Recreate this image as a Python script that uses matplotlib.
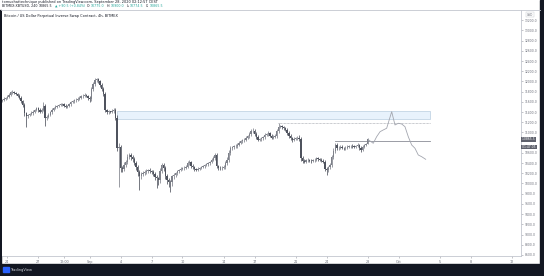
import matplotlib
matplotlib.use('Agg')
import matplotlib.pyplot as plt
from matplotlib.patches import Rectangle

W, H = 544, 276

# ---------------- data (4h candles, BitMEX XBTUSD) ----------------
first_open = 11620
start_day = -0.5          # first candle: Aug 23 12:00 (days relative to Aug 24 00:00)
bar_days = 1 / 6          # 4h

closes = [
    11640, 11660, 11680, 11700, 11740, 11790, 11800, 11775, 11750, 11720, 11680, 11620,
    11540, 11380, 11320, 11340, 11370, 11385, 11405, 11440, 11470, 11440, 11410, 11450,
    11520, 11280, 11310, 11345, 11400, 11440, 11480, 11505, 11525, 11540, 11545, 11550,
    11520, 11505, 11525, 11550, 11590, 11610, 11630, 11645, 11665, 11685, 11710, 11720,
    11735, 11720, 11680, 11650, 11850, 11950, 12020, 12040, 12000, 11930, 11850, 11760,
    11440, 11405, 11410, 11405, 11430, 11440, 11280, 10690, 10720, 10300, 10290, 10370,
    10420, 10520, 10560, 10510, 10480, 10400, 10320, 10230, 10150, 10190, 10210, 10230,
    10250, 10265, 10250, 10232, 10190, 10135, 10100, 10069, 10250, 10363, 10300, 10150,
    10069, 10030, 10020, 10140, 10170, 10200, 10240, 10270, 10290, 10300, 10310, 10330,
    10400, 10420, 10350, 10320, 10275, 10270, 10290, 10300, 10325, 10340, 10360, 10375,
    10395, 10420, 10460, 10500, 10555, 10340, 10310, 10298, 10305, 10320, 10400, 10470,
    10600, 10690, 10710, 10725, 10740, 10760, 10800, 10825, 10845, 10860, 10900, 10930,
    10970, 11020, 11030, 10970, 10920, 10860, 10865, 10885, 10910, 10950, 10965, 10984,
    10940, 10900, 10915, 10931, 11020, 11113, 11120, 11110, 11080, 11045, 10990, 10940,
    10890, 10853, 10870, 10885, 10900, 10880, 10500, 10440, 10430, 10455, 10460, 10445,
    10440, 10455, 10470, 10490, 10480, 10465, 10450, 10430, 10290, 10260, 10320, 10360,
    10520, 10640, 10755, 10690, 10705, 10721, 10700, 10690, 10705, 10721, 10730, 10735,
    10725, 10721, 10740, 10755, 10700, 10657, 10720, 10755, 10775, 10865.5,
]

up_wick = [
    25, 30, 20, 35, 40, 25, 30, 20, 25, 20, 30, 25,
    20, 30, 25, 30, 20, 35, 30, 25, 30, 25, 40, 30,
    70, 40, 25, 30, 20, 35, 25, 30, 20, 25, 30, 20,
    25, 30, 20, 25, 30, 25, 20, 30, 25, 20, 30, 25,
    30, 25, 20, 40, 50, 35, 42, 30, 25, 30, 35, 40,
    40, 25, 30, 20, 35, 30, 40, 60, 80, 40, 50, 45,
    40, 50, 35, 30, 40, 30, 35, 45, 40, 30, 25, 35,
    30, 25, 30, 20, 35, 30, 40, 35, 60, 47, 40, 35,
    30, 40, 45, 35, 30, 25, 30, 20, 25, 30, 25, 30,
    40, 35, 30, 25, 20, 30, 25, 20, 25, 30, 25, 20,
    25, 30, 35, 30, 40, 45, 30, 25, 30, 35, 40, 45,
    50, 40, 30, 35, 25, 30, 35, 25, 30, 25, 35, 30,
    40, 45, 50, 35, 30, 25, 30, 25, 30, 35, 30, 40,
    30, 25, 30, 35, 40, 67, 35, 30, 25, 30, 35, 30,
    25, 30, 35, 30, 40, 45, 40, 30, 35, 25, 30, 25,
    30, 25, 35, 30, 25, 20, 30, 25, 40, 35, 30, 40,
    45, 50, 40, 30, 25, 30, 25, 20, 25, 30, 20, 25,
    30, 25, 20, 30, 25, 30, 25, 20, 25, 34.5,
]

dn_wick = [
    30, 25, 20, 30, 25, 35, 30, 25, 20, 30, 25, 35,
    40, 60, 207, 30, 25, 20, 35, 30, 25, 30, 25, 20,
    30, 153, 40, 30, 25, 30, 20, 25, 30, 20, 25, 30,
    25, 30, 20, 25, 30, 20, 25, 30, 20, 25, 20, 30,
    25, 30, 40, 50, 30, 40, 35, 30, 25, 30, 35, 40,
    45, 40, 35, 30, 25, 40, 35, 60, 750, 80, 60, 50,
    45, 40, 35, 40, 50, 45, 60, 80, 277, 70, 50, 40,
    45, 40, 35, 40, 50, 60, 194, 90, 60, 40, 50, 70,
    80, 90, 181, 60, 50, 40, 35, 30, 25, 30, 35, 30,
    30, 35, 40, 30, 25, 30, 25, 30, 20, 25, 30, 25,
    30, 25, 20, 25, 30, 35, 50, 40, 35, 30, 40, 45,
    40, 35, 30, 25, 30, 35, 25, 30, 35, 30, 25, 30,
    30, 35, 40, 45, 40, 30, 35, 30, 25, 30, 25, 30,
    35, 30, 25, 30, 35, 40, 30, 35, 30, 25, 35, 40,
    35, 40, 30, 25, 30, 40, 60, 45, 30, 25, 30, 25,
    30, 25, 30, 25, 30, 25, 30, 35, 40, 93, 40, 35,
    40, 45, 35, 40, 30, 25, 30, 25, 30, 25, 30, 25,
    25, 30, 25, 30, 35, 40, 30, 25, 20, 0.5,
]

# projected path (thin grey line), days since Aug 24 and price
proj_days = [35.0, 35.53, 35.86, 36.19, 36.5, 36.83, 37.32, 37.64, 37.96,
             38.29, 38.61, 38.93, 39.26, 39.58, 39.9, 40.23, 40.62]
proj_prices = [10865, 10788, 10917, 11015, 11049, 11082, 11407, 11147, 11180,
               11166, 11113, 10917, 10755, 10690, 10559, 10525, 10474]

zone_days = [10.62, 41.04]
zone_prices = [11258, 11427]
dotted_days = [26.28, 41.04]
dotted_level = 11190
solid_days = [31.8, 41.04]
solid_level = 10825

price_ticks = [8600, 8800, 9000, 9200, 9400, 9600, 9800, 10000, 10200, 10400,
               10600, 11000, 11200, 11400, 11600, 11800, 12000, 12200, 12400,
               12600, 12800, 13000, 13200]
time_tick_days = [0, 3, 5.5, 8, 11, 14, 17, 21, 24, 28, 31, 35, 38, 42, 45, 49]
time_tick_labels = ['24', '27', '12:00', 'Sep', '4', '7', '10', '14', '17', '21',
                    '24', '28', 'Oct', '5', '8', '12']
last_price = 10865.5

assert len(closes) == len(up_wick) == len(dn_wick)

# ---------------- figure ----------------
def fx(px):
    return px / W

def fy(py):
    return 1 - py / H

fig = plt.figure(figsize=(W / 100, H / 100), dpi=100, facecolor='white')

# dark frame (bottom bar, right strip, left strip)
fig.add_artist(Rectangle((0, 0), 1, fy(264), transform=fig.transFigure,
                         color='#131722', zorder=0))
fig.add_artist(Rectangle((fx(540), 0), 1, 1, transform=fig.transFigure,
                         color='#131722', zorder=0))
fig.add_artist(Rectangle((0, 0), fx(1.3), fy(10), transform=fig.transFigure,
                         color='#131722', zorder=0))

ax = fig.add_axes([fx(2), fy(256), (521 - 2) / W, (256 - 10) / H])
ax.set_xlim((2 - 7.3) / 10.3, (521 - 7.3) / 10.3)
ax.set_ylim(8579, 13400)

# zone + levels
ax.add_patch(Rectangle((zone_days[0], zone_prices[0]), zone_days[1] - zone_days[0],
                       zone_prices[1] - zone_prices[0], facecolor='#e8f2fc',
                       edgecolor='#b9cde0', linewidth=0.5, zorder=1))
ax.plot(dotted_days, [dotted_level] * 2, color='#9598a1', lw=0.5,
        ls=(0, (1, 1)), zorder=2)
ax.plot(solid_days, [solid_level] * 2, color='#8a8d96', lw=0.6, zorder=2)

# candles
opens = [first_open] + closes[:-1]
xs = [start_day + i * bar_days for i in range(len(closes))]
for x, o, c, uw, dw in zip(xs, opens, closes, up_wick, dn_wick):
    hi = max(o, c) + uw
    lo = min(o, c) - dw
    up = c >= o
    col = '#7e818a' if up else '#4f535e'
    ax.vlines(x, lo, hi, color=col, linewidth=0.55, zorder=3)
    ax.bar(x, max(abs(c - o), 10), bottom=min(o, c), width=0.13,
           color=col, linewidth=0, zorder=4)

# projection
ax.plot(proj_days, proj_prices, color='#a3a6af', lw=0.6, zorder=3)

# axes styling
for s in ['top', 'left']:
    ax.spines[s].set_visible(False)
ax.spines['right'].set_color('#c3c6ce')
ax.spines['bottom'].set_color('#c3c6ce')
ax.spines['right'].set_linewidth(0.6)
ax.spines['bottom'].set_linewidth(0.6)
ax.yaxis.tick_right()
ax.set_yticks(price_ticks)
ax.set_yticklabels([f'{p:.1f}' for p in price_ticks])
ax.tick_params(axis='y', length=1.5, width=0.4, color='#9598a1', pad=1.2,
               labelsize=2.2, labelcolor='#6a6d78')
ax.set_xticks(time_tick_days)
ax.set_xticklabels(time_tick_labels)
ax.tick_params(axis='x', length=1.5, width=0.4, color='#9598a1', pad=1.2,
               labelsize=2.4, labelcolor='#6a6d78')

# top border line of chart
fig.add_artist(plt.Line2D([fx(1.3), fx(540)], [fy(10), fy(10)],
                          transform=fig.transFigure, color='#c3c6ce', lw=0.6))

# last price tag + countdown
ax.text(1.0, last_price, f' {last_price:.1f} ', transform=ax.get_yaxis_transform(),
        ha='left', va='center', fontsize=2.2, color='white',
        bbox=dict(boxstyle='square,pad=0.15', fc='#5d606b', ec='none'))
ax.text(1.0, last_price - 150, ' 01:47:05 ', transform=ax.get_yaxis_transform(),
        ha='left', va='center', fontsize=2.2, color='white',
        bbox=dict(boxstyle='square,pad=0.15', fc='#5d606b', ec='none'))
fig.text(fx(530), fy(14.5), 'USD', fontsize=2.2, color='#6a6d78',
         ha='center', va='center',
         bbox=dict(boxstyle='square,pad=0.2', fc='white', ec='#c3c6ce', lw=0.3))

# chart title inside pane
fig.text(fx(4.5), fy(15.7), 'Bitcoin / US Dollar Perpetual Inverse Swap Contract, 4h, BITMEX',
         fontsize=2.5, color='#131722', va='center', ha='left')

# header
fig.text(fx(1.5), fy(1.9),
         'tomuchattechnique published on TradingView.com, September 28, 2020 02:12:57 CEST',
         fontsize=2.5, color='#131722', va='center', ha='left')
hdr = [('BITMEX:XBTUSD, 240', '#131722'), ('10865.5', '#131722'),
       ('▲ +90.5 (+0.84%)', '#26a69a'),
       ('O:', '#131722'), ('10775.0', '#26a69a'),
       ('H:', '#131722'), ('10900.0', '#26a69a'),
       ('L:', '#131722'), ('10774.5', '#26a69a'),
       ('C:', '#131722'), ('10865.5', '#26a69a')]
renderer = fig.canvas.get_renderer()
cur = 1.5
for i, (t, c) in enumerate(hdr):
    tt = fig.text(fx(cur), fy(6.0), t, fontsize=2.3, color=c, va='center', ha='left')
    w = tt.get_window_extent(renderer=renderer).width
    gap = 0.6 if t.endswith(':') else 2.0
    cur += w + gap

# footer logo
fig.add_artist(Rectangle((fx(2.5), fy(272)), fx(6), 5 / H, transform=fig.transFigure,
                         color='#2962ff', zorder=2))
fig.text(fx(10), fy(269.5), 'TradingView', fontsize=2.6, color='#d1d4dc',
         va='center', ha='left')

fig.savefig('out.png', dpi=100, facecolor='white')
